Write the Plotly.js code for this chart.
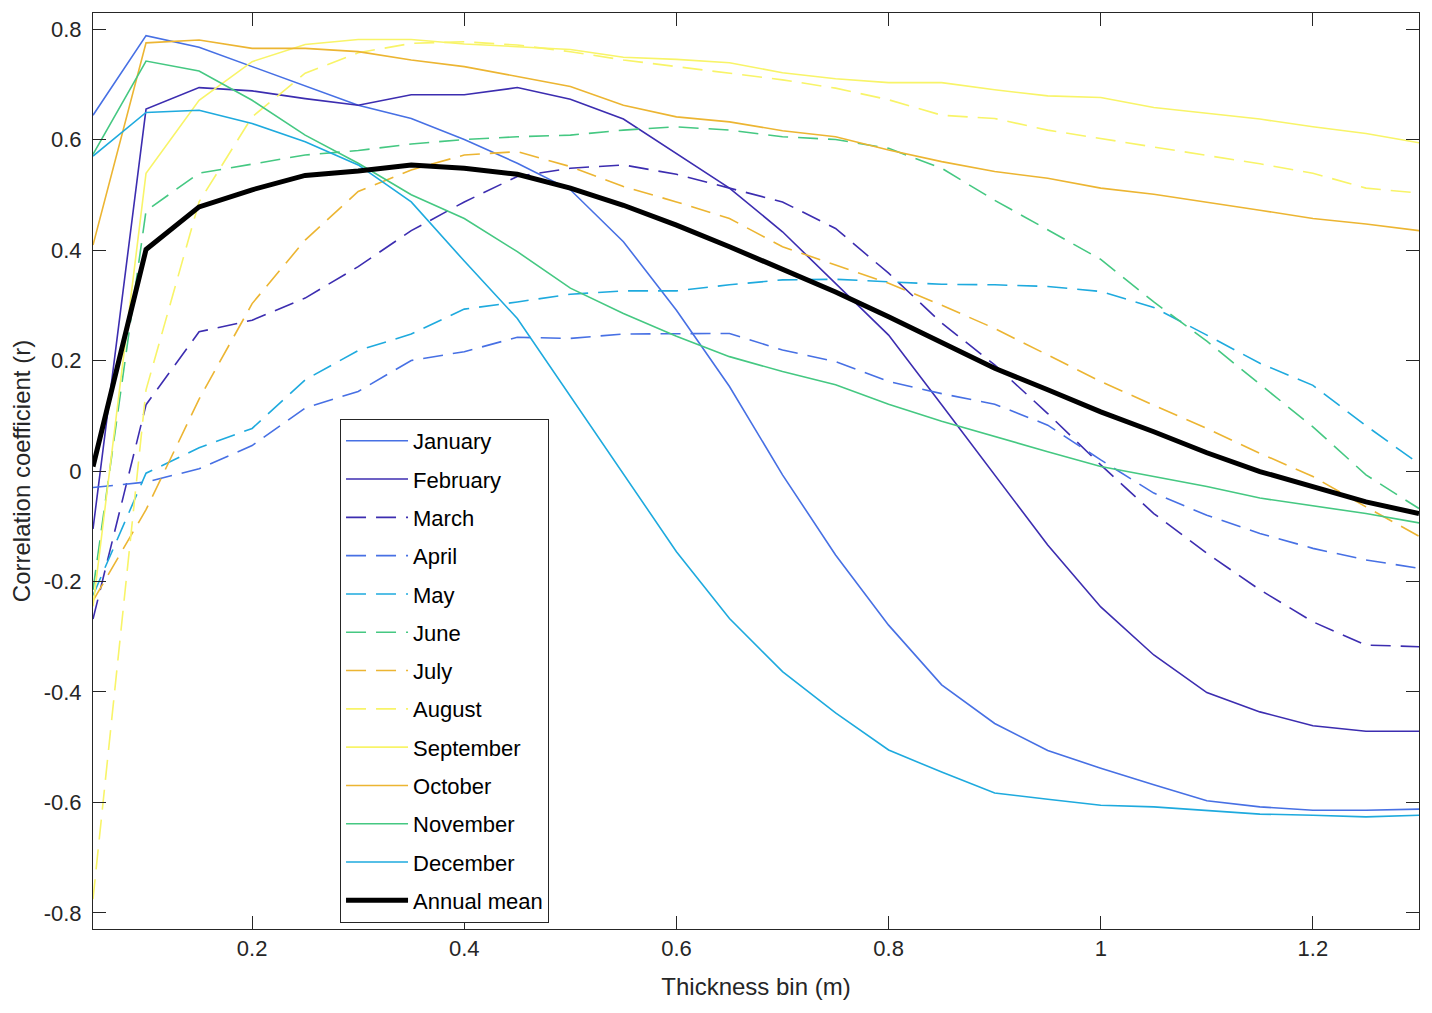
<!DOCTYPE html>
<html>
<head>
<meta charset="utf-8">
<script src="https://cdn.plot.ly/plotly-3.0.1.min.js"></script>
<style>
  html, body { margin: 0; padding: 0; background: #fff; }
  #chart { width: 1432px; height: 1013px; }
</style>
</head>
<body>
<div id="chart"></div>
<script>
// Thickness bins (m)
const thickness = [0.05, 0.1, 0.15, 0.2, 0.25, 0.3, 0.35, 0.4, 0.45, 0.5, 0.55, 0.6, 0.65,
                   0.7, 0.75, 0.8, 0.85, 0.9, 0.95, 1.0, 1.05, 1.1, 1.15, 1.2, 1.25, 1.3];

// Correlation coefficient per month
const january   = [0.644, 0.788, 0.767, 0.732, 0.696, 0.662, 0.638, 0.600, 0.557, 0.509, 0.415, 0.291, 0.153,
                   -0.007, -0.152, -0.279, -0.387, -0.457, -0.506, -0.538, -0.568, -0.597, -0.608, -0.614, -0.614, -0.612];
const february  = [-0.105, 0.655, 0.694, 0.688, 0.674, 0.662, 0.681, 0.681, 0.694, 0.673, 0.637, 0.575, 0.512,
                   0.433, 0.340, 0.246, 0.120, -0.006, -0.134, -0.246, -0.333, -0.401, -0.436, -0.461, -0.471, -0.471];
const march     = [-0.268, 0.120, 0.252, 0.273, 0.313, 0.370, 0.435, 0.487, 0.533, 0.548, 0.554, 0.537, 0.512,
                   0.487, 0.439, 0.358, 0.268, 0.192, 0.104, 0.011, -0.077, -0.149, -0.215, -0.273, -0.315, -0.318];
const april     = [-0.030, -0.020, 0.004, 0.046, 0.114, 0.144, 0.200, 0.216, 0.242, 0.240, 0.248, 0.249, 0.249,
                   0.219, 0.198, 0.162, 0.140, 0.121, 0.083, 0.020, -0.040, -0.080, -0.113, -0.140, -0.161, -0.176];
const may       = [-0.225, -0.004, 0.042, 0.077, 0.165, 0.218, 0.248, 0.293, 0.306, 0.320, 0.326, 0.326, 0.337,
                   0.346, 0.347, 0.343, 0.338, 0.337, 0.334, 0.325, 0.296, 0.246, 0.195, 0.155, 0.082, 0.013];
const june      = [-0.215, 0.471, 0.539, 0.555, 0.572, 0.580, 0.592, 0.600, 0.605, 0.608, 0.617, 0.623, 0.617,
                   0.605, 0.600, 0.584, 0.548, 0.490, 0.436, 0.383, 0.306, 0.235, 0.157, 0.080, -0.007, -0.068];
const july      = [-0.235, -0.070, 0.130, 0.303, 0.418, 0.506, 0.545, 0.572, 0.578, 0.551, 0.515, 0.487, 0.457,
                   0.406, 0.373, 0.340, 0.300, 0.258, 0.210, 0.162, 0.119, 0.077, 0.032, -0.010, -0.065, -0.118];
const august    = [-0.775, 0.147, 0.487, 0.641, 0.720, 0.757, 0.774, 0.777, 0.771, 0.759, 0.744, 0.732, 0.721,
                   0.708, 0.693, 0.672, 0.644, 0.638, 0.617, 0.602, 0.587, 0.572, 0.556, 0.539, 0.512, 0.503];
const september = [-0.245, 0.539, 0.671, 0.741, 0.772, 0.781, 0.781, 0.773, 0.768, 0.763, 0.749, 0.745, 0.739,
                   0.721, 0.710, 0.703, 0.703, 0.690, 0.679, 0.676, 0.658, 0.647, 0.637, 0.623, 0.611, 0.594];
const october   = [0.409, 0.775, 0.780, 0.765, 0.765, 0.759, 0.744, 0.732, 0.714, 0.696, 0.662, 0.641, 0.632,
                   0.616, 0.605, 0.581, 0.560, 0.542, 0.530, 0.512, 0.501, 0.487, 0.472, 0.457, 0.447, 0.435];
const november  = [0.573, 0.742, 0.724, 0.671, 0.608, 0.557, 0.500, 0.457, 0.397, 0.331, 0.285, 0.244, 0.207,
                   0.180, 0.156, 0.121, 0.090, 0.062, 0.035, 0.008, -0.010, -0.028, -0.049, -0.063, -0.077, -0.094];
const december  = [0.570, 0.649, 0.653, 0.629, 0.596, 0.554, 0.487, 0.380, 0.276, 0.136, -0.004, -0.146, -0.267,
                   -0.363, -0.438, -0.505, -0.545, -0.583, -0.594, -0.605, -0.608, -0.615, -0.621, -0.623, -0.626, -0.623];
const annualMean = [0.008, 0.401, 0.478, 0.509, 0.535, 0.543, 0.554, 0.548, 0.537, 0.512, 0.481, 0.445, 0.406,
                    0.364, 0.324, 0.279, 0.232, 0.186, 0.147, 0.107, 0.071, 0.033, -0.001, -0.028, -0.056, -0.077];

const monthNames = ['January', 'February', 'March', 'April', 'May', 'June', 'July',
                    'August', 'September', 'October', 'November', 'December'];
const monthValues = [january, february, march, april, may, june, july,
                     august, september, october, november, december];

const xTickVals = [0.2, 0.4, 0.6, 0.8, 1, 1.2];
const xTickText = ['0.2', '0.4', '0.6', '0.8', '1', '1.2'];
const yTickVals = [-0.8, -0.6, -0.4, -0.2, 0, 0.2, 0.4, 0.6, 0.8];
const yTickText = ['-0.8', '-0.6', '-0.4', '-0.2', '0', '0.2', '0.4', '0.6', '0.8'];

// colour + dash per month (same colour shared by mirrored months)
const BLUE = '#4770e4', INDIGO = '#3c2db0', CYAN = '#1eaade',
      GREEN = '#45c882', GOLD = '#ecb532', YELLOW = '#f8f468';
const monthStyle = [
  [BLUE, 'solid'], [INDIGO, 'solid'], [INDIGO, '20px,10px'], [BLUE, '20px,10px'],
  [CYAN, '20px,10px'], [GREEN, '20px,10px'], [GOLD, '20px,10px'], [YELLOW, '20px,10px'],
  [YELLOW, 'solid'], [GOLD, 'solid'], [GREEN, 'solid'], [CYAN, 'solid'],
];

const AXIS = '#262626';
const FONT = 'Helvetica, "Liberation Sans", Arial, sans-serif';

const traces = monthNames.map((name, i) => ({
  type: 'scatter', mode: 'lines',
  x: thickness, y: monthValues[i], name: name, legendgroup: name,
  line: { color: monthStyle[i][0], width: 1.6, dash: monthStyle[i][1] },
}));
traces.push({
  type: 'scatter', mode: 'lines',
  x: thickness, y: annualMean, name: 'Annual mean', legendgroup: 'Annual mean',
  line: { color: '#000000', width: 5 },
});

const axisCommon = {
  showline: true, linecolor: AXIS, linewidth: 1, mirror: 'ticks',
  ticks: 'inside', ticklen: 13, tickwidth: 1, tickcolor: AXIS,
  showgrid: false, zeroline: false,
  tickfont: { family: FONT, size: 22, color: AXIS },
};

const layout = {
  width: 1432, height: 1013,
  paper_bgcolor: '#ffffff', plot_bgcolor: '#ffffff',
  margin: { l: 93, r: 13, t: 13, b: 84 },
  font: { family: FONT, color: AXIS },
  showlegend: true,
  legend: {
    x: 0.1863, y: 0.5568, xanchor: 'left', yanchor: 'top',
    bgcolor: '#ffffff', bordercolor: AXIS, borderwidth: 1,
    font: { family: FONT, size: 22, color: '#000000' },
    itemwidth: 62, tracegroupgap: 6.7,
  },
  xaxis: Object.assign({}, axisCommon, {
    range: [0.05, 1.3], tickmode: 'array', tickvals: xTickVals, ticktext: xTickText,
    title: { text: 'Thickness bin (m)', font: { family: FONT, size: 24, color: AXIS }, standoff: 17 },
  }),
  yaxis: Object.assign({}, axisCommon, {
    range: [-0.829, 0.829], tickmode: 'array', tickvals: yTickVals, ticktext: yTickText,
    ticklabelstandoff: 6,
    title: { text: 'Correlation coefficient (r)', font: { family: FONT, size: 24, color: AXIS }, standoff: 6 },
  }),
};

Plotly.newPlot('chart', traces, layout, { displayModeBar: false, staticPlot: true });
</script>
</body>
</html>
